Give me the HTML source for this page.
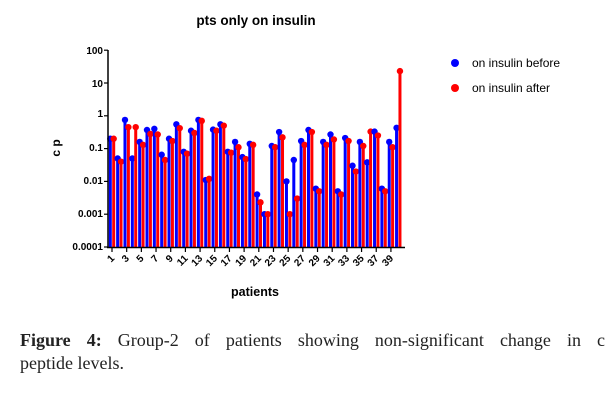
<!DOCTYPE html>
<html><head><meta charset="utf-8"><style>
body{margin:0;background:#fff;width:611px;height:406px;overflow:hidden;position:relative;font-family:"Liberation Sans",sans-serif}
.cap{position:absolute;left:20px;width:585px;font-family:"Liberation Serif",serif;font-size:18px;line-height:22px;color:#222;white-space:nowrap}
.l1{top:329px;text-align:justify;text-align-last:justify}
.l2{top:352px}
</style></head><body>
<svg id="s" width="611" height="320" style="position:absolute;left:0;top:0" font-family="Liberation Sans, sans-serif">
<text x="256" y="25" font-size="13.5" font-weight="bold" text-anchor="middle">pts only on insulin</text>
<text transform="translate(60,148) rotate(-90)" font-size="12" font-weight="bold" text-anchor="middle">c p</text>
<g font-size="10" font-weight="bold" text-anchor="end">
<text x="103" y="54">100</text><text x="103" y="87">10</text><text x="103" y="117">1</text>
<text x="103" y="151">0.1</text><text x="103" y="184">0.01</text><text x="103" y="217">0.001</text><text x="103" y="250">0.0001</text>
</g>
<text x="255" y="296" font-size="12.5" font-weight="bold" text-anchor="middle">patients</text>
<circle cx="455" cy="63" r="4" fill="#0000ff"/><text x="472" y="67" font-size="12">on insulin before</text>
<circle cx="455" cy="88" r="4" fill="#ff0000"/><text x="472" y="92" font-size="12">on insulin after</text>
<g id="bars"></g>
<g id="tl" font-size="10" font-weight="bold" text-anchor="end">
<text>1</text><text>3</text><text>5</text><text>7</text><text>9</text><text>11</text><text>13</text><text>15</text><text>17</text><text>19</text><text>21</text><text>23</text><text>25</text><text>27</text><text>29</text><text>31</text><text>33</text><text>35</text><text>37</text><text>39</text>
</g>
<line x1="108" y1="50" x2="108" y2="248" stroke="#000" stroke-width="1.5"/>
<line x1="107" y1="247.5" x2="405" y2="247.5" stroke="#000" stroke-width="1.5"/>
<g id="ticks" stroke="#000" stroke-width="1.2"></g>
</svg>
<div class="cap l1"><b>Figure 4:</b> Group-2 of patients showing non-significant change in c</div>
<div class="cap l2">peptide levels.</div>
<script>
var d=[[.2,.2],[.05,.04],[.75,.45],[.05,.45],[.16,.13],[.37,.28],[.4,.27],[.065,.045],[.2,.17],[.55,.42],[.08,.07],[.35,.3],[.75,.7],[.011,.012],[.38,.35],[.55,.5],[.08,.075],[.16,.11],[.055,.048],[.14,.13],[.004,.0023],[.001,.001],[.12,.11],[.32,.22],[.01,.001],[.045,.003],[.17,.13],[.37,.32],[.006,.005],[.16,.13],[.27,.19],[.005,.004],[.21,.17],[.03,.02],[.16,.12],[.038,.33],[.33,.25],[.006,.005],[.16,.11],[.43,23]];
var Y=function(v){return 247-(Math.log10(v)+4)*32.8;},X=function(i){return 112+i*7.34;};
var g=document.getElementById('bars'),h='';
d.forEach(function(p,i){var x=X(i);
h+='<rect x="'+(x-3.2)+'" y="'+Y(p[0])+'" width="3" height="'+(247-Y(p[0]))+'" fill="#0000ff"/><circle cx="'+(x-1.7)+'" cy="'+Y(p[0])+'" r="3.2" fill="#0000ff"/>';
h+='<rect x="'+(x+0.2)+'" y="'+Y(p[1])+'" width="3" height="'+(247-Y(p[1]))+'" fill="#ff0000"/><circle cx="'+(x+1.7)+'" cy="'+Y(p[1])+'" r="3.2" fill="#ff0000"/>';});
g.innerHTML=h;
var t='';for(var k=2;k>=-4;k--){var y=247-(k+4)*32.8;t+='<line x1="104" y1="'+y+'" x2="108" y2="'+y+'"/>';}
for(var i=0;i<40;i+=2){t+='<line x1="'+X(i)+'" y1="247" x2="'+X(i)+'" y2="252"/>';}
document.getElementById('ticks').innerHTML=t;
var tl=document.getElementById('tl').children;
for(var j=0;j<tl.length;j++){var x=X(j*2)+3;tl[j].setAttribute('transform','translate('+x+',259) rotate(-45)');}
</script>
</body></html>
